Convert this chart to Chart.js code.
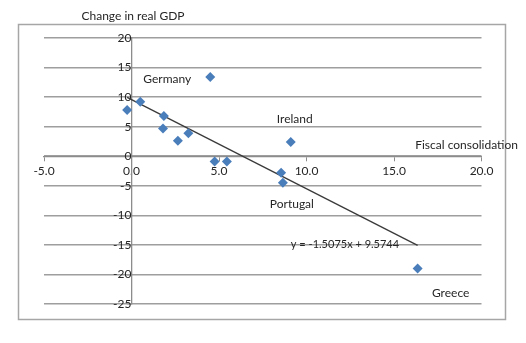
<!DOCTYPE html>
<html>
<head>
<meta charset="utf-8">
<script src="https://cdn.jsdelivr.net/npm/chart.js@4/dist/chart.umd.min.js"></script>
<style>
  html, body { margin: 0; padding: 0; background: #fff; }
  #wrap { width: 526px; height: 343px; }
</style>
</head>
<body>
<div id="wrap"><canvas id="gdpChart"></canvas></div>
<script>
// fiscal consolidation (x) vs change in real GDP (y)
const consolidation = [-0.25, 0.5, 1.85, 1.8, 2.65, 3.25, 4.5, 4.75, 5.45, 9.1, 8.55, 8.65, 16.35];
const gdpChange     = [7.8, 9.2, 6.8, 4.7, 2.6, 3.9, 13.4, -0.9, -0.9, 2.4, -2.8, -4.5, -19.0];
const countries     = ['', '', '', '', '', '', 'Germany', '', '', 'Ireland', '', 'Portugal', 'Greece'];
const xTicks = [-5, 0, 5, 10, 15, 20];
const yTicks = [-25, -20, -15, -10, -5, 0, 5, 10, 15, 20];
const slope = -1.5075;
const intercept = 9.5744;

const points = consolidation.map((x, i) => ({ x: x, y: gdpChange[i] }));
const xMin = Math.min(...consolidation);
const xMax = Math.max(...consolidation);
const trend = [xMin, xMax].map(x => ({ x: x, y: slope * x + intercept }));

const FONT = 'Lato, "Open Sans", sans-serif';
const TEXT = '#262626';

// where each country name sits relative to its marker
const nameOffset = {
  Germany: [-43, 2],
  Ireland: [4, -23],
  Portugal: [9, 21],
  Greece: [33, 25]
};

const annotations = {
  id: 'annotations',
  beforeDraw(chart) {
    const c = chart.ctx;
    c.save();
    c.strokeStyle = '#a6a6a6';
    c.lineWidth = 1.5;
    c.strokeRect(18.5, 24.5, 487, 295);
    c.restore();
  },
  afterDraw(chart) {
    const c = chart.ctx;
    const xs = chart.scales.x, ys = chart.scales.y;
    c.save();
    c.fillStyle = TEXT;
    c.font = '12px ' + FONT;
    c.textBaseline = 'middle';

    c.textAlign = 'center';
    c.fillText('Change in real GDP', 133, 16);
    c.textAlign = 'right';
    c.fillText('Fiscal consolidation', 518, 145);

    c.textAlign = 'center';
    countries.forEach((name, i) => {
      if (!name) return;
      const off = nameOffset[name];
      c.fillText(name, xs.getPixelForValue(consolidation[i]) + off[0],
                 ys.getPixelForValue(gdpChange[i]) + off[1]);
    });

    c.font = '11px ' + FONT;
    const eq = 'y = ' + slope.toFixed(4) + 'x + ' + intercept.toFixed(4);
    c.fillText(eq, 345, ys.getPixelForValue(-15.0));
    c.restore();
  }
};

new Chart(document.getElementById('gdpChart'), {
  type: 'scatter',
  data: {
    datasets: [
      {
        label: 'Countries',
        data: points,
        pointStyle: 'rectRot',
        pointRadius: 5,
        pointHoverRadius: 5,
        backgroundColor: '#4a7ebb',
        borderColor: '#4a7ebb',
        borderWidth: 0
      },
      {
        type: 'line',
        label: 'Trend',
        data: trend,
        borderColor: '#3a3a3a',
        borderWidth: 1.3,
        pointRadius: 0,
        fill: false
      }
    ]
  },
  options: {
    responsive: true,
    maintainAspectRatio: false,
    animation: false,
    layout: { padding: { left: 44, right: 44.5, top: 38, bottom: 39 } },
    plugins: {
      legend: { display: false },
      tooltip: { enabled: false }
    },
    scales: {
      x: {
        type: 'linear',
        position: { y: 0 },
        min: xTicks[0],
        max: xTicks[xTicks.length - 1],
        afterBuildTicks: s => { s.ticks = xTicks.map(v => ({ value: v })); },
        grid: { drawOnChartArea: false, drawTicks: true, tickLength: 4, color: '#8c8c8c', lineWidth: 1 },
        border: { display: true, color: '#8c8c8c', width: 1.3 },
        ticks: {
          padding: 4,
          color: TEXT,
          font: { family: FONT, size: 12 },
          maxRotation: 0,
          callback: v => Number(v).toFixed(1)
        }
      },
      y: {
        type: 'linear',
        position: { x: 0 },
        min: yTicks[0],
        max: yTicks[yTicks.length - 1],
        afterBuildTicks: s => { s.ticks = yTicks.map(v => ({ value: v })); },
        grid: { color: '#9e9e9e', lineWidth: 1.5, drawTicks: true, tickLength: 4 },
        border: { display: true, color: '#8c8c8c', width: 1.3 },
        ticks: {
          padding: 7,
          color: TEXT,
          font: { family: FONT, size: 12 },
          callback: v => String(v)
        }
      }
    }
  },
  plugins: [annotations]
});
</script>
</body>
</html>
